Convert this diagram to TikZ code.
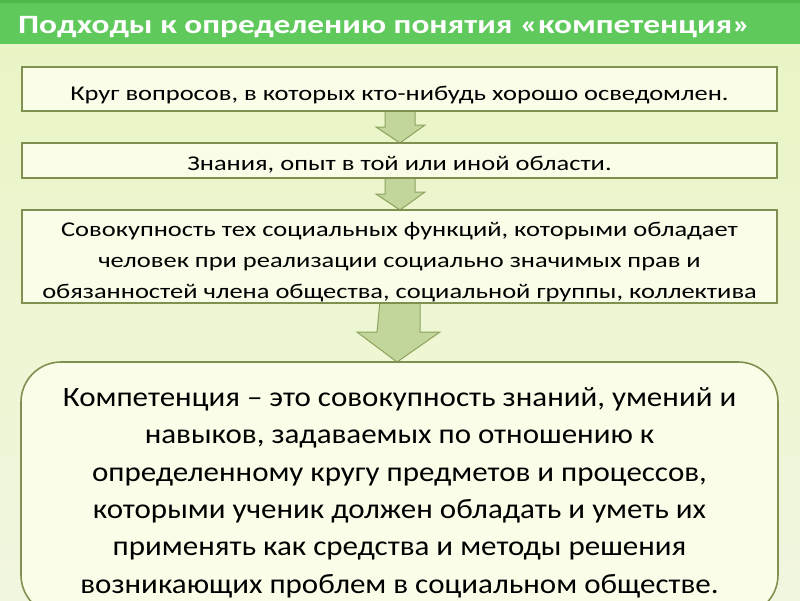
\documentclass[tikz,border=0pt]{standalone}
\usepackage{fontspec}
\usetikzlibrary{calc}
\setmainfont{Carlito}
\newfontfamily\boxfont[FakeStretch=1.26]{Carlito}
\newfontfamily\bigfont[FakeStretch=1.107]{Carlito}
\newfontfamily\titlefont[FakeStretch=1.265]{Carlito}
\definecolor{bgA}{HTML}{E9F5C4}
\definecolor{bgB}{HTML}{F1F6DF}
\definecolor{band}{HTML}{5FC95C}
\definecolor{bandtop}{HTML}{4CB94A}
\definecolor{boxfill}{HTML}{FAFDE8}
\definecolor{boxline}{HTML}{7F9050}
\definecolor{arrfill}{HTML}{C2D59A}
\definecolor{arrline}{HTML}{8FA35F}
\tikzset{
  x=1pt,y=-1pt,
  plainbox/.style={draw=boxline,line width=1.6pt,fill=boxfill,rectangle,minimum width=755pt,inner sep=0pt},
  boxtext/.style={inner sep=0pt,align=center,text=black,anchor=base,font=\boxfont\fontsize{21}{31}\selectfont},
  bigtext/.style={inner sep=0pt,align=center,text=black,anchor=base,font=\bigfont\fontsize{28}{37.3}\selectfont},
  bigbox/.style={draw=boxline,line width=1.6pt,fill=boxfill,rounded corners=40pt},
  downarrow/.style={draw=arrline,line width=1pt,fill=arrfill,line join=miter},
}
\begin{document}
\begin{tikzpicture}
\useasboundingbox (0,0) rectangle (800,600);
\shade[top color=bgA,bottom color=bgB] (0,0) rectangle (800,600);
\fill[band] (0,0) rectangle (800,44);
\fill[bandtop] (0,0) rectangle (800,3);
\node[anchor=base west,text=white,font=\titlefont\bfseries\fontsize{26.4}{30}\selectfont,inner sep=0pt] (title) at (18,33) {Подходы к определению понятия «компетенция»};
% arrows (drawn first, behind boxes)
\coordinate (a1) at (400,111);
\coordinate (a2) at (400,178);
\coordinate (a3) at (400,303);
\draw[downarrow] ($(a1)+(-15,-2)$) -- ++(30,0) -- ++(0,16) -- ++(10,0) -- (400,143) -- (376,127) -- ++(9,0) -- cycle;
\draw[downarrow] ($(a2)+(-15,-2)$) -- ++(30,0) -- ++(0,16) -- ++(10,0) -- (400,210) -- (376,194) -- ++(9,0) -- cycle;
\draw[downarrow] ($(a3)+(-20,-2)$) -- ++(40,0) -- ++(0,31) -- ++(20,0) -- (397,362) -- (357,332) -- ++(20,0) -- cycle;
\node[plainbox,minimum height=44pt] (b1) at (399.5,89) {};
\node[plainbox,minimum height=35pt] (b2) at (399.5,160.5) {};
\node[plainbox,minimum height=93pt] (b3) at (399.5,256.5) {};
\node[boxtext] (t1) at (399.5,100) {Круг вопросов, в которых кто-нибудь хорошо осведомлен.};
\node[boxtext] (t2) at (399.5,170) {Знания, опыт в той или иной области.};
\node[boxtext] (t3) at (399.5,298) {Совокупность тех социальных функций, которыми обладает\\человек при реализации социально значимых прав и\\обязанностей члена общества, социальной группы, коллектива};
\draw[bigbox] (21,362) rectangle (778,615);
\node[bigtext] (def) at (399.5,593) {Компетенция – это совокупность знаний, умений и\\навыков, задаваемых по отношению к\\определенному кругу предметов и процессов,\\которыми ученик должен обладать и уметь их\\применять как средства и методы решения\\возникающих проблем в социальном обществе.};
\end{tikzpicture}
\end{document}
